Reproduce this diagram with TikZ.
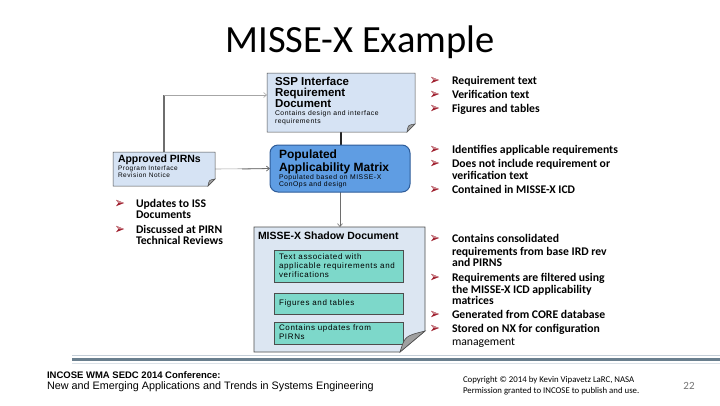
\documentclass[tikz,border=0pt]{standalone}
\usepackage{fontspec}
\setmainfont{Carlito}
\newfontfamily\arial{Liberation Sans}
\newfontfamily\arialsp[LetterSpace=8]{Liberation Sans}
\usetikzlibrary{arrows.meta}
\definecolor{docfill}{HTML}{D6E3F4}
\definecolor{shadfill}{HTML}{DCE6F2}
\definecolor{popfill}{HTML}{5F9DE3}
\definecolor{popborder}{HTML}{2E5C99}
\definecolor{tealbox}{HTML}{7DD8CA}
\definecolor{bulred}{HTML}{9E1B2A}
\definecolor{connc}{HTML}{A6A6A6}
\definecolor{conndark}{HTML}{6E6E6E}
\definecolor{edgec}{HTML}{4D4D4D}
\definecolor{foldc}{HTML}{A0A0A0}
\definecolor{lineL}{HTML}{C4CED8}
\definecolor{lineD}{HTML}{6A7F8E}
\begin{document}
\begin{tikzpicture}[x=1pt,y=-1pt,
  ltxt/.style={anchor=base west, inner sep=0, outer sep=0},
  geom/.style={inner sep=0, outer sep=0, draw=none},
  conn/.style={draw=connc, line width=0.6pt},
  conndk/.style={draw=conndark, line width=0.8pt},
  tip/.style={-{Straight Barb[length=3pt,width=5pt]}},
  hdr/.style={ltxt, font=\arial\bfseries\fontsize{11.5}{11.5}\selectfont},
  small/.style={ltxt, font=\arialsp\fontsize{6.8}{7}\selectfont},
  intxt/.style={ltxt, font=\arialsp\fontsize{8}{8}\selectfont},
  btxt/.style={ltxt, font=\bfseries\fontsize{11.7}{12}\selectfont},
  bull/.pic={
    \fill[bulred] (-4,-3.2) -- (4,0) -- (-4,3.2) -- (-1.6,0) -- cycle;
    \fill[bulred!55] (-4,-3.2) -- (4,0) -- (-1.6,0) -- cycle;
  },
]
\useasboundingbox (0,0) rectangle (720,405);
\fill[white] (0,0) rectangle (720,405);

% title
\node[anchor=base, inner sep=0] (title) at (360,52) {\fontsize{38.5}{38.5}\selectfont MISSE-X Example};

% bottom rules
\draw[lineL, line width=1pt] (72,355.5) -- (720,355.5);
\fill[lineD] (72,358) rectangle (720,361.3);
\draw[lineL!60, line width=0.7pt] (72,363.2) -- (720,363.2);

% geometry nodes
\node[geom, minimum width=148pt, minimum height=59pt] (ssp) at (341,102.5) {};
\node[geom, minimum width=140pt, minimum height=47pt] (pop) at (340,168.5) {};
\node[geom, minimum width=102pt, minimum height=34pt] (pirn) at (164,169) {};
\node[geom, minimum width=171pt, minimum height=125pt] (shad) at (339.5,289.5) {};
\node[geom, minimum width=129pt, minimum height=32pt] (in1) at (338.5,266) {};
\node[geom, minimum width=129pt, minimum height=21pt] (in2) at (338.5,303.5) {};
\node[geom, minimum width=129pt, minimum height=22pt] (in3) at (338.5,333) {};

% connectors
\coordinate (sspin) at ([yshift=7.5pt]ssp.west);
\draw[line width=2pt, draw=conndark] (pirn.north) -- (pirn.north |- sspin);
\draw[conn, tip] (pirn.north |- sspin) -- (sspin);
\draw[conn] (pirn.east) -- (pop.west);
\draw[conndk, tip] ([xshift=27pt]pirn.east) -- (pop.west);
\draw[line width=1.2pt, draw=black!85] (ssp.south) -- (ssp.south |- pop.north);
\draw[conn, draw=conndark, tip] (pop.south) -- (pop.south |- shad.north);

% SSP document
\filldraw[fill=docfill, draw=edgec, line width=0.5pt] (ssp.north west) -- (ssp.north east) -- ([yshift=8pt]ssp.south east) -- ([xshift=-8pt]ssp.south east) -- (ssp.south west) -- cycle;
\filldraw[fill=foldc, draw=edgec, line width=0.5pt] ([yshift=8pt]ssp.south east) -- ([xshift=-8pt]ssp.south east) .. controls ([xshift=-7pt,yshift=7pt]ssp.south east) .. ([yshift=8pt]ssp.south east) -- cycle;
\node[hdr] (ssp1) at (275,85) {SSP Interface};
\node[hdr] (ssp2) at (275,96.3) {Requirement};
\node[hdr] (ssp3) at (275,107.5) {Document};
\node[small] (ssp4) at (275,115.5) {Contains design and interface};
\node[small] (ssp5) at (275,123.5) {requirements};

% Populated applicability matrix
\filldraw[fill=popfill, draw=popborder, line width=1pt, rounded corners=8pt] (pop.north west) rectangle (pop.south east);
\node[hdr, font=\arial\bfseries\fontsize{12}{12}\selectfont] (pop1) at (279,158.5) {Populated};
\node[hdr, font=\arial\bfseries\fontsize{12}{12}\selectfont] (pop2) at (279,171) {Applicability Matrix};
\node[small] (pop3) at (279,179) {Populated based on MISSE-X};
\node[small] (pop4) at (279,186.5) {ConOps and design};

% Approved PIRNs
\filldraw[fill=docfill, draw=edgec, line width=0.5pt] (pirn.north west) -- (pirn.north east) -- ([yshift=7pt]pirn.south east) -- ([xshift=-7pt]pirn.south east) -- (pirn.south west) -- cycle;
\filldraw[fill=foldc, draw=edgec, line width=0.5pt] ([yshift=7pt]pirn.south east) -- ([xshift=-7pt]pirn.south east) .. controls ([xshift=-6pt,yshift=6pt]pirn.south east) .. ([yshift=7pt]pirn.south east) -- cycle;
\node[hdr, font=\arial\bfseries\fontsize{10.5}{10.5}\selectfont] (pirn1) at (118,162.5) {Approved PIRNs};
\node[small, font=\arialsp\fontsize{6.5}{6.5}\selectfont] (pirn2) at (118,170.7) {Program Interface};
\node[small, font=\arialsp\fontsize{6.5}{6.5}\selectfont] (pirn3) at (118,177.5) {Revision Notice};

% Shadow document
\filldraw[fill=shadfill, draw=edgec, line width=0.7pt] (shad.north west) -- (shad.north east) -- ([yshift=21pt]shad.south east) -- ([xshift=-25pt]shad.south east) -- (shad.south west) -- cycle;
\node[hdr, font=\arial\bfseries\fontsize{10.5}{10.5}\selectfont] (shadt) at (258,239.7) {MISSE-X Shadow Document};
\filldraw[fill=tealbox, draw=edgec, line width=0.5pt] (in1.north west) rectangle (in1.south east);
\filldraw[fill=tealbox, draw=edgec, line width=0.5pt] (in2.north west) rectangle (in2.south east);
\filldraw[fill=tealbox, draw=edgec, line width=0.5pt] (in3.north west) rectangle (in3.south east);
\filldraw[fill=foldc, draw=edgec, line width=0.6pt] ([yshift=21pt]shad.south east) -- ([xshift=-25pt]shad.south east) .. controls ([xshift=-20pt,yshift=16pt]shad.south east) .. ([yshift=21pt]shad.south east) -- cycle;
\node[intxt] (t1a) at (279,259.5) {Text associated with};
\node[intxt] (t1b) at (279,268.5) {applicable requirements and};
\node[intxt] (t1c) at (279,277.5) {verifications};
\node[intxt] (t2) at (279,305) {Figures and tables};
\node[intxt] (t3a) at (279,330) {Contains updates from};
\node[intxt] (t3b) at (279,339.5) {PIRNs};

% left bullets
\pic at (120,203) {bull};
\node[btxt] (l1a) at (136,207) {Updates to ISS};
\node[btxt] (l1b) at (136,218) {Documents};
\pic at (120,229) {bull};
\node[btxt] (l2a) at (136,233) {Discussed at PIRN};
\node[btxt] (l2b) at (136,244) {Technical Reviews};

% right bullets
\pic at (435,80) {bull};
\node[btxt] (r1) at (452,84) {Requirement text};
\pic at (435,94) {bull};
\node[btxt] (r2) at (452,98) {Verification text};
\pic at (435,108) {bull};
\node[btxt] (r3) at (452,112.5) {Figures and tables};
\pic at (435,149) {bull};
\node[btxt] (r4) at (452,153) {Identifies applicable requirements};
\pic at (435,163) {bull};
\node[btxt] (r5a) at (452,167) {Does not include requirement or};
\node[btxt] (r5b) at (452,179) {verification text};
\pic at (435,189) {bull};
\node[btxt] (r6) at (452,193) {Contained in MISSE-X ICD};
\pic at (435,238) {bull};
\node[btxt] (r7a) at (452,242) {Contains consolidated};
\node[btxt] (r7b) at (452,255) {requirements from base IRD rev};
\node[btxt] (r7c) at (452,266) {and PIRNS};
\pic at (435,277) {bull};
\node[btxt] (r8a) at (452,281) {Requirements are filtered using};
\node[btxt] (r8b) at (452,293) {the MISSE-X ICD applicability};
\node[btxt] (r8c) at (452,304) {matrices};
\pic at (435,314) {bull};
\node[btxt] (r9) at (452,318) {Generated from CORE database};
\pic at (435,328) {bull};
\node[btxt] (r10a) at (452,332) {Stored on NX for configuration};
\node[btxt, font=\fontsize{11.7}{12}\selectfont] (r10b) at (452,345) {management};

% footer
\node[ltxt, font=\arial\bfseries\fontsize{9.5}{9.5}\selectfont] (f1) at (47,378.5) {INCOSE WMA SEDC 2014 Conference:};
\node[ltxt, font=\arial\fontsize{10.8}{10.8}\selectfont] (f2) at (47,389) {New and Emerging Applications and Trends in Systems Engineering};
\node[ltxt, font=\fontsize{8.8}{8.8}\selectfont] (c1) at (463,382) {Copyright © 2014 by Kevin Vipavetz LaRC, NASA};
\node[ltxt, font=\fontsize{8.8}{8.8}\selectfont] (c2) at (463,393) {Permission granted to INCOSE to publish and use.};
\node[anchor=base, inner sep=0, text=black!55, font=\fontsize{11}{11}\selectfont] (pg) at (689,389) {22};
\end{tikzpicture}
\end{document}
